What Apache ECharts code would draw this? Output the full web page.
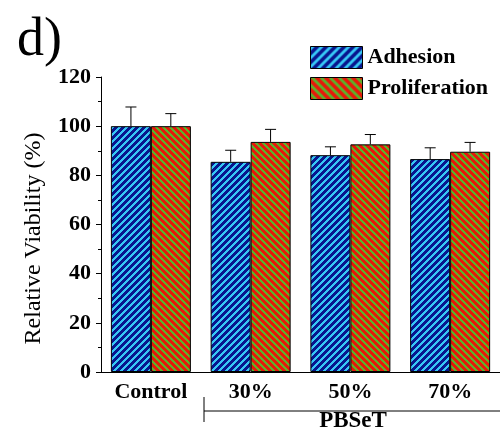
<!DOCTYPE html>
<html>
<head>
<meta charset="utf-8">
<script src="https://cdn.jsdelivr.net/npm/echarts@6/dist/echarts.min.js"></script>
<style>
  html, body { margin: 0; padding: 0; background: #fff; }
  #chart { width: 500px; height: 436px; }
</style>
</head>
<body>
<div id="chart"></div>
<script>
// Groups on the x axis
const categories = ['Control', '30%', '50%', '70%'];
const seriesNames = ['Adhesion', 'Proliferation'];

// Mean relative viability (%) and upper error (SD) for each group
const adhesion = [100, 85.5, 88.2, 86.6];
const adhesionErr = [7.8, 4.7, 3.4, 4.6];
const proliferation = [100, 93.6, 92.6, 89.6];
const proliferationErr = [5.1, 5.1, 4.0, 3.8];

// Y axis ticks
const yTicks = [0, 20, 40, 60, 80, 100, 120];

const FONT = '"Liberation Serif", "Times New Roman", serif';

// Diagonal two-colour hatch drawn on a small tile
function hatch(bg, fg, period, fgShare, dir) {
  const c = document.createElement('canvas');
  c.width = period; c.height = period;
  const ctx = c.getContext('2d');
  for (let x = 0; x < period; x++) {
    for (let y = 0; y < period; y++) {
      const k = dir > 0 ? (x + y) : (x - y + period * 4);
      ctx.fillStyle = (k % period) < period * fgShare ? fg : bg;
      ctx.fillRect(x, y, 1, 1);
    }
  }
  return { image: c, repeat: 'repeat' };
}

const blueFill = hatch('#08168e', '#36c6f4', 7, 0.4, 1);
const redFill = hatch('#e6180a', '#5cb02a', 7, 0.4, -1);
const blueLegend = hatch('#08168e', '#36c6f4', 9, 0.42, 1);
const redLegend = hatch('#e6180a', '#5cb02a', 9, 0.42, -1);

// Upper error whisker with a short cap
function errorRenderer(values, errs, side) {
  return function (params, api) {
    const i = params.dataIndex;
    const catW = api.size([1, 0])[0];
    const base = api.coord([i, values[i]]);
    const top = api.coord([i, values[i] + errs[i]]);
    const x = base[0] + side * catW * 0.2;
    const cap = 5.5;
    return {
      type: 'group',
      children: [
        { type: 'line', shape: { x1: x, y1: base[1], x2: x, y2: top[1] },
          style: { stroke: '#000', lineWidth: 1 } },
        { type: 'line', shape: { x1: x - cap, y1: top[1], x2: x + cap, y2: top[1] },
          style: { stroke: '#000', lineWidth: 1 } }
      ]
    };
  };
}

const chart = echarts.init(document.getElementById('chart'), null, { renderer: 'canvas' });

chart.setOption({
  animation: false,
  backgroundColor: '#fff',
  grid: { left: 101, right: -1, top: 77, bottom: 64, containLabel: false },
  legend: {
    orient: 'vertical',
    left: 310, top: 46,
    padding: 0,
    itemWidth: 52, itemHeight: 22, itemGap: 8,
    textStyle: { fontFamily: FONT, fontWeight: 'bold', fontSize: 22, color: '#000' },
    data: [
      { name: seriesNames[0], icon: 'rect', itemStyle: { color: blueLegend, borderColor: '#000', borderWidth: 1 } },
      { name: seriesNames[1], icon: 'rect', itemStyle: { color: redLegend, borderColor: '#000', borderWidth: 1 } }
    ]
  },
  xAxis: [
    {
      type: 'category',
      data: categories,
      axisLine: { lineStyle: { color: '#000', width: 1 } },
      axisTick: { alignWithLabel: true, length: 6, lineStyle: { color: '#000' } },
      axisLabel: { fontFamily: FONT, fontWeight: 'bold', fontSize: 22, color: '#000', margin: 9 }
    },
    {
      type: 'category',
      data: categories,
      position: 'bottom',
      axisLine: { show: false },
      axisTick: { length: 3, lineStyle: { color: '#000' } },
      axisLabel: { show: false }
    }
  ],
  yAxis: {
    type: 'value',
    min: yTicks[0], max: yTicks[yTicks.length - 1], interval: 20,
    name: 'Relative Viability (%)',
    nameLocation: 'middle',
    nameGap: 55,
    nameTextStyle: { fontFamily: FONT, fontSize: 24, color: '#000', padding: [0, 28, 0, 0] },
    axisLine: { show: true, lineStyle: { color: '#000', width: 1 } },
    axisTick: { show: true, length: 5, lineStyle: { color: '#000' } },
    minorTick: { show: true, splitNumber: 2, length: 3, lineStyle: { color: '#000' } },
    splitLine: { show: false },
    axisLabel: { fontFamily: FONT, fontWeight: 'bold', fontSize: 22, color: '#000', margin: 10 }
  },
  series: [
    {
      name: seriesNames[0], type: 'bar', data: adhesion,
      barWidth: 40, barGap: '0%',
      itemStyle: { color: blueFill, borderColor: '#000', borderWidth: 1 }
    },
    {
      name: seriesNames[1], type: 'bar', data: proliferation,
      barWidth: 40, barGap: '0%',
      itemStyle: { color: redFill, borderColor: '#000', borderWidth: 1 }
    },
    {
      type: 'custom', name: 'adhErr', data: adhesion, z: 5,
      renderItem: errorRenderer(adhesion, adhesionErr, -1), silent: true
    },
    {
      type: 'custom', name: 'proErr', data: proliferation, z: 5,
      renderItem: errorRenderer(proliferation, proliferationErr, 1), silent: true
    }
  ],
  graphic: [
    { type: 'text', left: 17, top: 14,
      style: { text: 'd)', fontFamily: FONT, fontSize: 54, fill: '#000' } },
    { type: 'line', shape: { x1: 204, y1: 397, x2: 204, y2: 422 },
      style: { stroke: '#000', lineWidth: 1 } },
    { type: 'line', shape: { x1: 204, y1: 411, x2: 500, y2: 411 },
      style: { stroke: '#000', lineWidth: 1 } },
    { type: 'text', x: 353, y: 421,
      style: { text: 'PBSeT', fontFamily: FONT, fontWeight: 'bold', fontSize: 23, fill: '#000',
               align: 'center', verticalAlign: 'middle' } }
  ]
});
</script>
</body>
</html>
